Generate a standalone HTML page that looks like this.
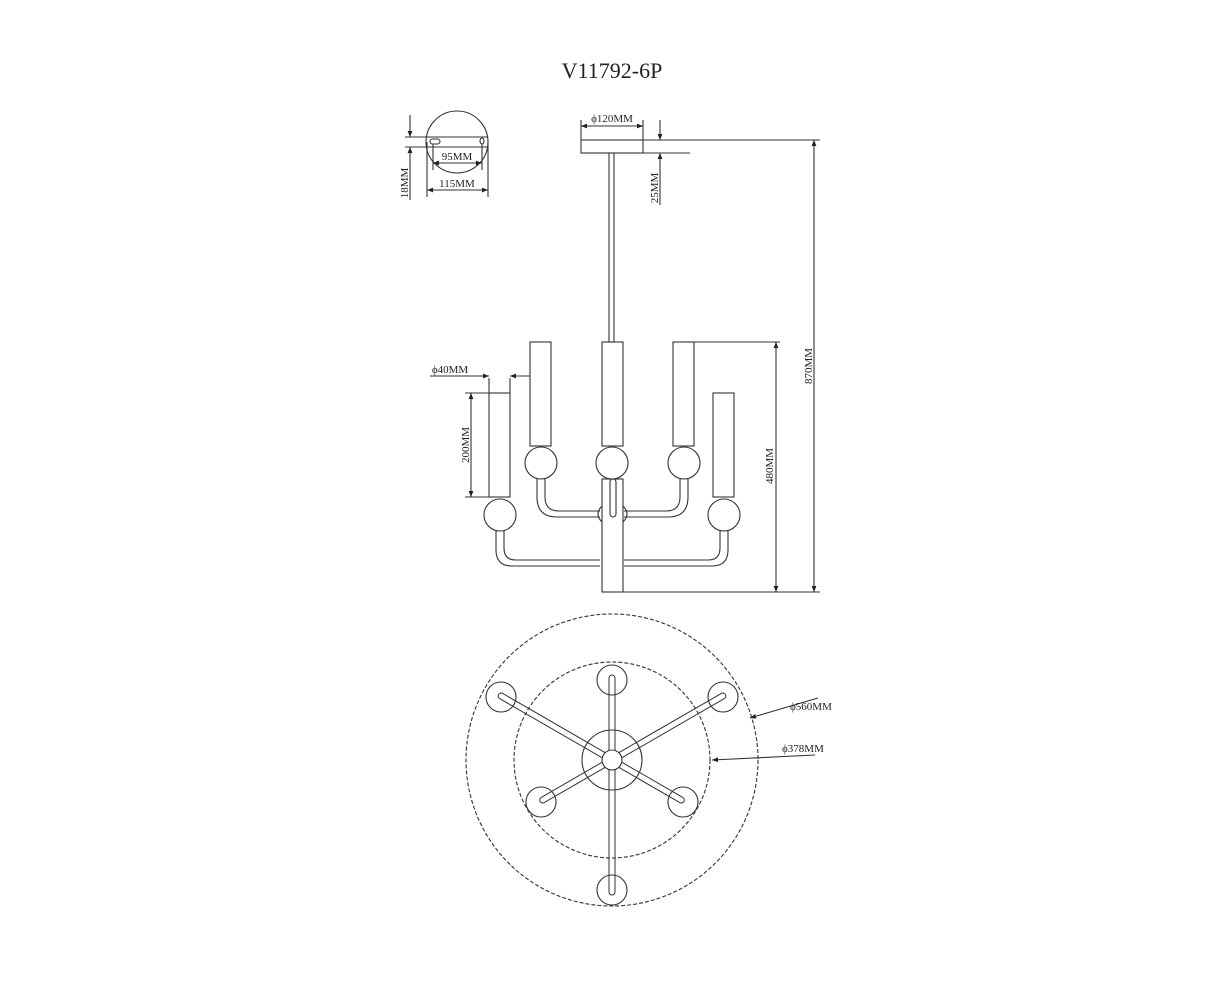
<!DOCTYPE html>
<html><head><meta charset="utf-8"><style>
html,body{margin:0;padding:0;background:#fff;}
svg{display:block;}
text{font-family:"Liberation Serif",serif;fill:#222;}
</style></head><body>
<svg width="1223" height="1000" viewBox="0 0 1223 1000" xmlns="http://www.w3.org/2000/svg">
<defs>
<marker id="a" viewBox="0 0 10 10" refX="10" refY="5" markerWidth="8" markerHeight="6" orient="auto-start-reverse" markerUnits="userSpaceOnUse"><path d="M0,1 L10,5 L0,9 z" fill="#222"/></marker>
</defs>
<text x="612" y="78" font-size="22" text-anchor="middle">V11792-6P</text>
<g stroke="#333" stroke-width="1.1" fill="none">
<!-- mount circle -->
<circle cx="457" cy="142" r="31"/>
<line x1="405" y1="137" x2="488" y2="137"/>
<line x1="405" y1="147" x2="488" y2="147"/>
<rect x="430" y="139" width="10" height="5" rx="2.5"/>
<ellipse cx="482" cy="141" rx="2" ry="3"/>
<line x1="433" y1="144" x2="433" y2="170"/>
<line x1="482" y1="144" x2="482" y2="170"/>
<line x1="433" y1="163" x2="482" y2="163" marker-start="url(#a)" marker-end="url(#a)"/>
<line x1="427" y1="142" x2="427" y2="197"/>
<line x1="488" y1="142" x2="488" y2="197"/>
<line x1="427" y1="190" x2="488" y2="190" marker-start="url(#a)" marker-end="url(#a)"/>
<line x1="410" y1="115" x2="410" y2="137" marker-end="url(#a)"/>
<line x1="410" y1="200" x2="410" y2="147" marker-end="url(#a)"/>
<!-- canopy -->
<rect x="581" y="140" width="62" height="13"/>
<rect x="609" y="153" width="5" height="189"/>
<line x1="581" y1="120" x2="581" y2="140"/>
<line x1="643" y1="120" x2="643" y2="140"/>
<line x1="581" y1="126" x2="643" y2="126" marker-start="url(#a)" marker-end="url(#a)"/>
<line x1="643" y1="140" x2="820" y2="140"/>
<line x1="643" y1="153" x2="690" y2="153"/>
<line x1="660" y1="120" x2="660" y2="140" marker-end="url(#a)"/>
<line x1="660" y1="205" x2="660" y2="153" marker-end="url(#a)"/>
<!-- 870 / 480 -->
<line x1="814" y1="140" x2="814" y2="592" marker-start="url(#a)" marker-end="url(#a)"/>
<line x1="622" y1="592" x2="820" y2="592"/>
<line x1="694" y1="342" x2="780" y2="342"/>
<line x1="776" y1="342" x2="776" y2="592" marker-start="url(#a)" marker-end="url(#a)"/>
<!-- tubes -->
<rect x="530" y="342" width="21" height="104"/>
<rect x="602" y="342" width="21" height="104"/>
<rect x="673" y="342" width="21" height="104"/>
<rect x="489" y="393" width="21" height="104"/>
<rect x="713" y="393" width="21" height="104"/>
<circle cx="541" cy="463" r="16"/>
<circle cx="612" cy="463" r="16"/>
<circle cx="684" cy="463" r="16"/>
<circle cx="500" cy="515" r="16"/>
<circle cx="724" cy="515" r="16"/>
<!-- center column -->
<rect x="602" y="479" width="21" height="113"/>
<rect x="610" y="479" width="6" height="38" rx="3"/>
<!-- inner arms -->
<path d="M537,479 V497 Q537,517 557,517 H600 M545,479 V497 Q545,511 559,511 H600"/>
<path d="M688,479 V497 Q688,517 668,517 H624 M680,479 V497 Q680,511 666,511 H624"/>
<path d="M602,506 Q594,514 602,522 M623,506 Q631,514 623,522"/>
<!-- outer arms -->
<path d="M496,531 V550 Q496,566 512,566 H600 M504,531 V548 Q504,560 516,560 H600"/>
<path d="M728,531 V550 Q728,566 712,566 H624 M720,531 V548 Q720,560 708,560 H624"/>
<line x1="489" y1="378" x2="489" y2="393"/>
<line x1="510" y1="378" x2="510" y2="393"/>
<line x1="430" y1="376" x2="489" y2="376" marker-end="url(#a)"/>
<line x1="530" y1="376" x2="510" y2="376" marker-end="url(#a)"/>
<line x1="465" y1="393" x2="489" y2="393"/>
<line x1="465" y1="497" x2="489" y2="497"/>
<line x1="471" y1="393" x2="471" y2="497" marker-start="url(#a)" marker-end="url(#a)"/>
<!-- top view -->
<circle cx="612" cy="760" r="146" stroke-dasharray="4,2"/>
<circle cx="612" cy="760" r="98" stroke-dasharray="4,2"/>
<circle cx="612" cy="760" r="30"/>
<circle cx="612" cy="680" r="15"/>
<circle cx="501" cy="697" r="15"/>
<circle cx="723" cy="697" r="15"/>
<circle cx="541" cy="802" r="15"/>
<circle cx="683" cy="802" r="15"/>
<circle cx="612" cy="890" r="15"/>
<g stroke-width="1">
<path d="M609,752 V678 a3,3 0 0 1 6,0 V752"/>
<path d="M609,768 V892 a3,3 0 0 0 6,0 V768"/>
<g transform="rotate(-60 612 760)"><path d="M609,752 V632 a3,3 0 0 1 6,0 V752"/><path d="M609,768 V840 a3,3 0 0 0 6,0 V768"/></g>
<g transform="rotate(60 612 760)"><path d="M609,752 V632 a3,3 0 0 1 6,0 V752"/><path d="M609,768 V840 a3,3 0 0 0 6,0 V768"/></g>
</g>
<circle cx="612" cy="760" r="10" fill="#fff"/>
<line x1="818" y1="698" x2="750" y2="718" marker-end="url(#a)"/>
<line x1="815" y1="755" x2="712" y2="760" marker-end="url(#a)"/>
</g>
<g font-size="11">
<text x="612" y="122" text-anchor="middle">ϕ120MM</text>
<text x="457" y="160" text-anchor="middle">95MM</text>
<text x="457" y="187" text-anchor="middle">115MM</text>
<text x="450" y="373" text-anchor="middle">ϕ40MM</text>
<text x="790" y="710">ϕ560MM</text>
<text x="782" y="752">ϕ378MM</text>
<text transform="translate(408,183) rotate(-90)" text-anchor="middle">18MM</text>
<text transform="translate(658,188) rotate(-90)" text-anchor="middle">25MM</text>
<text transform="translate(469,445) rotate(-90)" text-anchor="middle">200MM</text>
<text transform="translate(773,466) rotate(-90)" text-anchor="middle">480MM</text>
<text transform="translate(812,366) rotate(-90)" text-anchor="middle">870MM</text>
</g>
</svg>
</body></html>
